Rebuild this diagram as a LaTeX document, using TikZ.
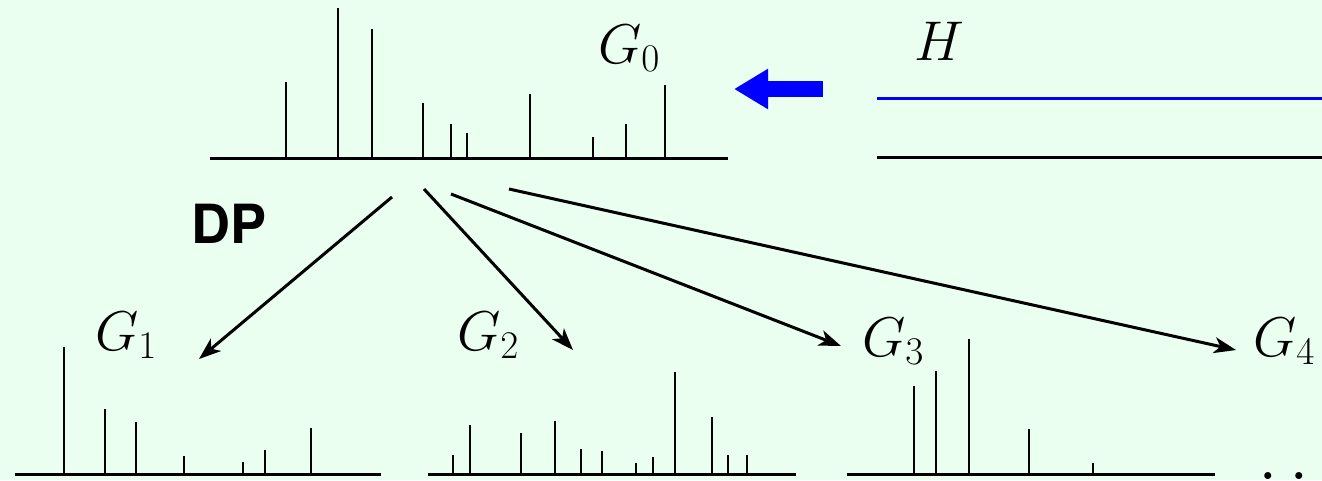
\RequirePackage{fix-cm}
\documentclass[tikz,border=0pt]{standalone}
\usepackage{fontspec}
\newfontfamily\dpfont{TeX Gyre Heros}
\usetikzlibrary{arrows.meta}
\definecolor{mintbg}{HTML}{EAFFF0}
\definecolor{hblue}{HTML}{0000FF}
% one stick spectrum: x from, x to, axis y, list of x/top pairs
\newcommand{\spectrum}[4]{%
  \draw[axisline] (#1,#3) -- (#2,#3);
  \foreach \sx/\sy in {#4}
    \draw[spike] (\sx,#3) -- (\sx,\sy);}

\begin{document}
\begin{tikzpicture}[x=1pt,y=-1pt,
    axisline/.style={line width=3pt},
    spike/.style={line width=2.8pt},
    splitarrow/.style={line width=3pt,-{Stealth[length=22pt,width=16pt,inset=6pt]}},
    glabel/.style={inner sep=0pt,anchor=base west,font=\fontsize{56}{60}\selectfont}]
    \fill[mintbg] (0,0) rectangle (1322,480);
    \useasboundingbox (0,0) rectangle (1322,480);

    % base measure and the two lines on the right
    \spectrum{210}{728}{158}{286/82, 338/8, 372/29, 423/103, 451/124, 467/133,
      530/94, 593/137, 626/124, 665/85}
    \node[glabel] (g0) at (598,63) {$G_0$};
    \node[glabel] (hlab) at (914,60) {$H$};
    \draw[axisline,hblue] (877,98) -- (1330,98);
    \draw[axisline] (877,157) -- (1330,157);
    \coordinate (hstart) at (823,89);
    \coordinate (hend) at (734,89);
    \draw[hblue,line width=16pt,-{Triangle[length=34pt,width=38pt]}] (hstart) -- (hend);

    % draws from the process
    \node[glabel,font=\dpfont\bfseries\fontsize{54}{58}\selectfont] (dp) at (191,243) {DP};
    \spectrum{15}{381}{474}{64/347, 105/409, 136/422, 184/456, 243/462, 265/450, 311/428}
    \spectrum{428}{796}{474}{453/455, 470/425, 521/433, 555/421, 581/449, 602/451,
      636/463, 653/457, 675/372, 712/417, 728/455, 747/455}
    \spectrum{847}{1215}{474}{914/386, 936/371, 969/339, 1029/429, 1093/463}
    \node[glabel] (g1) at (95,350) {$G_1$};
    \node[glabel] (g2) at (457,350) {$G_2$};
    \node[glabel] (g3) at (862,356) {$G_3$};
    \node[glabel] (g4) at (1253,356) {$G_4$};
    \node[inner sep=0pt,anchor=base west,font=\fontsize{72}{76}\selectfont] (more) at (1258,479) {$\ldots$};

    \coordinate (s1) at (392,197);
    \coordinate (t1) at (199,359);
    \coordinate (s2) at (424,189);
    \coordinate (t2) at (573,350);
    \coordinate (s3) at (451,194);
    \coordinate (t3) at (841,346);
    \coordinate (s4) at (509,189);
    \coordinate (t4) at (1236,350);
    \foreach \i in {1,...,4}
      \draw[splitarrow] (s\i) -- (t\i);
\end{tikzpicture}
\end{document}
